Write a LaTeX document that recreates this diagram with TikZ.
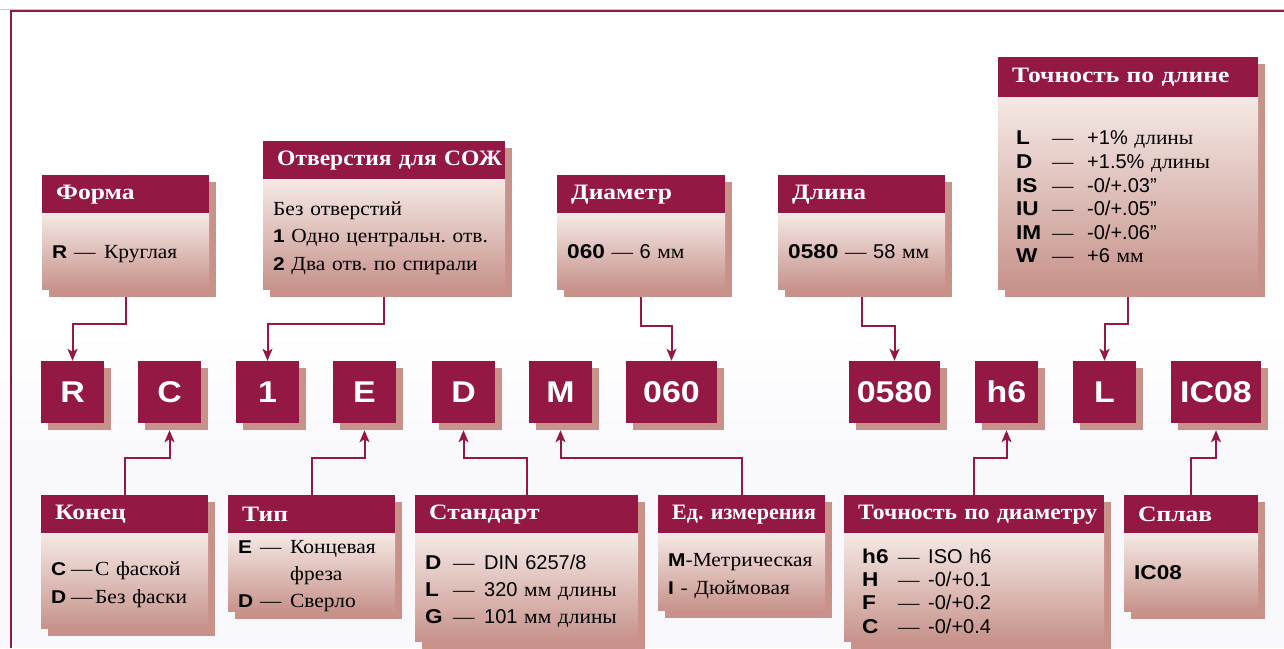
\documentclass[tikz,border=0pt]{standalone}
\usepackage{fontspec}
\setmainfont{Liberation Serif}[FakeStretch=1.07]
\setsansfont{Liberation Sans}[BoldFeatures={FakeStretch=1.13}]
\newfontfamily\hdfont{Liberation Serif}[FakeStretch=1.16]
\newfontfamily\hdplain{Liberation Serif}
\usepackage{xcolor}
\usetikzlibrary{arrows.meta,shadows,backgrounds}
\definecolor{crim}{RGB}{148,24,68}
\definecolor{shd}{RGB}{200,146,139}
\definecolor{btop}{RGB}{245,233,229}
\definecolor{bbot}{RGB}{199,146,139}
\definecolor{lav}{RGB}{248,248,253}
\newcommand{\kd}[1]{{\sffamily\bfseries\fontsize{20}{20}\selectfont #1}}
\newcommand{\ks}[1]{{\sffamily\bfseries\fontsize{18.5}{18.5}\selectfont #1}}
\newcommand{\sn}[1]{{\sffamily #1}}
\newcommand{\codeline}[4]{\makebox[#1][l]{#3}\makebox[#2][l]{—}#4}
\frenchspacing

\begin{document}
\begin{tikzpicture}[x=1pt,y=-1pt,
  >={Stealth[length=12pt,width=10pt,inset=3pt]},
  hd/.style={anchor=north west,fill=crim,text=white,font=\hdfont\bfseries\fontsize{22}{26}\selectfont,inner xsep=14pt,inner ysep=0pt,minimum height=38pt,align=left,text width=#1,execute at begin node=\leavevmode\hbox\bgroup,execute at end node=\egroup},
  bd/.style 2 args={anchor=north west,top color=btop,bottom color=bbot,inner xsep=10pt,inner ysep=0pt,align=left,text width=#1,minimum height=#2,font=\fontsize{20}{27}\selectfont,execute at end node=\endgraf\kern-7pt},
  kb/.style={drop shadow={shadow xshift=7pt,shadow yshift=-7pt,fill=shd,opacity=1},fill=crim,text=white,font=\sffamily\bfseries\fontsize{30}{34}\selectfont,inner sep=0pt,minimum width=#1,minimum height=62pt},
  cn/.style={->,draw=crim,line width=2pt}]
  \useasboundingbox (0,0) rectangle (1284,648);
  \begin{scope}[on background layer]
    \fill[white] (0,0) rectangle (1284,648);
    \shade[top color=white,bottom color=lav] (0,330) rectangle (1284,470);
    \fill[lav] (0,470) rectangle (1284,648);
  \end{scope}
  \draw[gray!45,line width=1pt] (0,9) -- (1284,9);
  \draw[crim,line width=2pt] (11,648) -- (11,11) -- (1284,11);

  \node[hd=139pt] (formaH) at (42,175) {Форма};
  \node[bd={147pt}{76pt}] (formaB) at (formaH.south west) {\codeline{22pt}{30pt}{\ks{R}}{Круглая}};
  \node[hd=214pt,font=\bfseries\fontsize{22}{26}\selectfont] (otvH) at (263,141) {Отверстия для СОЖ};
  \node[bd={222pt}{110pt},font=\fontsize{20}{27.5}\selectfont] (otvB) at (otvH.south west) {Без отверстий\\\ks{1} Одно центральн. отв.\\\ks{2} Два отв. по спирали};
  \node[hd=140pt] (diamH) at (557,175) {Диаметр};
  \node[bd={148pt}{76pt}] (diamB) at (diamH.south west) {\kd{060} — \sn{6} мм};
  \node[hd=139pt] (dlinaH) at (778,175) {Длина};
  \node[bd={147pt}{76pt}] (dlinaB) at (dlinaH.south west) {\kd{0580} — \sn{58} мм};
  \node[hd=232pt,minimum height=40pt] (tdlH) at (998,57) {Точность по длине};
  \node[bd={224pt}{192pt},inner xsep=18pt,font=\fontsize{20}{23.6}\selectfont] (tdlB) at (tdlH.south west) {\codeline{36pt}{35pt}{\kd{L}}{\sn{+1\%} длины}\\\codeline{36pt}{35pt}{\kd{D}}{\sn{+1.5\%} длины}\\\codeline{36pt}{35pt}{\kd{IS}}{\sn{-0/+.03”}}\\\codeline{36pt}{35pt}{\kd{IU}}{\sn{-0/+.05”}}\\\codeline{36pt}{35pt}{\kd{IM}}{\sn{-0/+.06”}}\\\codeline{36pt}{35pt}{\kd{W}}{\sn{+6} мм}};

  \node[kb=63pt] (kR) at (72.5,392) {R};
  \node[kb=63pt] (kC) at (169.5,392) {C};
  \node[kb=63pt] (k1) at (267.5,392) {1};
  \node[kb=63pt] (kE) at (364.5,392) {E};
  \node[kb=63pt] (kD) at (463.5,392) {D};
  \node[kb=63pt] (kM) at (560.5,392) {M};
  \node[kb=91pt] (k060) at (671.5,392) {060};
  \node[kb=91pt] (k0580) at (894.5,392) {0580};
  \node[kb=63pt] (kh6) at (1006.5,392) {h6};
  \node[kb=63pt] (kL) at (1104.5,392) {L};
  \node[kb=90pt] (kIC) at (1216,392) {IC08};

  \node[hd=139pt] (konH) at (41,495) {Конец};
  \node[bd={147pt}{95pt},font=\fontsize{20}{28}\selectfont] (konB) at (konH.south west) {\codeline{20pt}{24pt}{\ks{C}}{С фаской}\\\codeline{20pt}{24pt}{\ks{D}}{Без фаски}};
  \node[hd=139pt] (tipH) at (228,495) {Тип};
  \node[bd={147pt}{78pt}] (tipB) at (tipH.south west) {\codeline{22pt}{30pt}{\ks{E}}{Концевая}\\\hspace*{52pt}фреза\\\codeline{22pt}{30pt}{\ks{D}}{Сверло}};
  \node[hd=195pt] (stdH) at (415,495) {Стандарт};
  \node[bd={203pt}{108pt}] (stdB) at (stdH.south west) {\codeline{28pt}{31pt}{\kd{D}}{\sn{DIN 6257/8}}\\\codeline{28pt}{31pt}{\kd{L}}{\sn{320} мм длины}\\\codeline{28pt}{31pt}{\kd{G}}{\sn{101} мм длины}};
  \node[hd=139pt,font=\hdplain\bfseries\fontsize{22}{26}\selectfont] (edH) at (658,495) {Ед. измерения};
  \node[bd={147pt}{77pt},font=\fontsize{20}{28}\selectfont] (edB) at (edH.south west) {\ks{M}-Метрическая\\\ks{I} - Дюймовая};
  \node[hd=232pt,font=\bfseries\fontsize{22}{26}\selectfont] (tdiamH) at (844,495) {Точность по диаметру};
  \node[bd={224pt}{108pt},inner xsep=18pt,font=\fontsize{20}{23.3}\selectfont] (tdiamB) at (tdiamH.south west) {\codeline{36pt}{30pt}{\kd{h6}}{\sn{ISO h6}}\\\codeline{36pt}{30pt}{\kd{H}}{\sn{-0/+0.1}}\\\codeline{36pt}{30pt}{\kd{F}}{\sn{-0/+0.2}}\\\codeline{36pt}{30pt}{\kd{C}}{\sn{-0/+0.4}}};
  \node[hd=106pt] (splavH) at (1124,495) {Сплав};
  \node[bd={114pt}{78pt}] (splavB) at (splavH.south west) {\kd{IC08}};

  \begin{scope}[on background layer]
    \foreach \h/\b in {formaH/formaB,otvH/otvB,diamH/diamB,dlinaH/dlinaB,tdlH/tdlB,konH/konB,tipH/tipB,stdH/stdB,edH/edB,tdiamH/tdiamB,splavH/splavB}
      \fill[shd] ([shift={(7pt,-7pt)}]\h.north west) rectangle ([shift={(7pt,-7pt)}]\b.south east);
  \end{scope}

  \draw[cn] ([yshift=-7pt]formaB.south) -- ++(0,27) -| (kR.north);
  \draw[cn] ([yshift=-7pt]otvB.south) -- ++(0,27) -| (k1.north);
  \draw[cn] ([yshift=-7pt]diamB.south) -- ++(0,29) -| (k060.north);
  \draw[cn] ([yshift=-7pt]dlinaB.south) -- ++(0,29) -| (k0580.north);
  \draw[cn] ([yshift=-7pt]tdlB.south) -- ++(0,27) -| (kL.north);
  \draw[cn] (konH.north) -- ++(0,-37) -| ([yshift=-7pt]kC.south);
  \draw[cn] (tipH.north) -- ++(0,-37) -| ([yshift=-7pt]kE.south);
  \draw[cn] (stdH.north) -- ++(0,-37) -| ([yshift=-7pt]kD.south);
  \draw[cn] (edH.north) -- ++(0,-37) -| ([yshift=-7pt]kM.south);
  \draw[cn] (tdiamH.north) -- ++(0,-37) -| ([yshift=-7pt]kh6.south);
  \draw[cn] (splavH.north) -- ++(0,-37) -| ([yshift=-7pt]kIC.south);
\end{tikzpicture}
\end{document}
